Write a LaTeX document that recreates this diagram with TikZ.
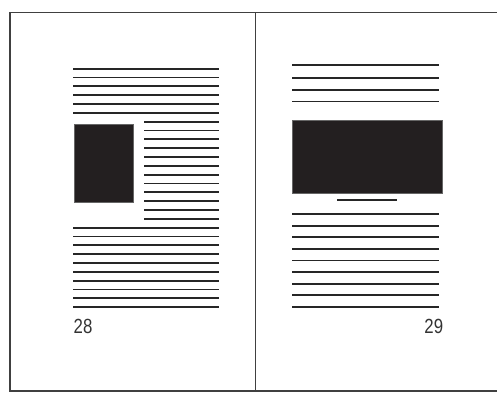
\documentclass[tikz,border=0pt]{standalone}
\usepackage{fontspec}
\setmainfont{Liberation Sans}
\begin{document}
\begin{tikzpicture}[x=1pt,y=-1pt,
  frameline/.style={draw=black!75, line width=1.5pt},
  textline/.style={draw=black!85, line width=1.8pt},
  picblock/.style={fill=pageblack, draw=black!60, line width=0.6pt},
  pagenum/.style={inner sep=0pt, text=black!80, font=\fontsize{20.5}{20.5}\selectfont, xscale=0.82}]
\definecolor{pageblack}{HTML}{231F20}
\useasboundingbox (0,0) rectangle (497,392);
\clip (0,0) rectangle (497,392);
% frame and spine
\draw[frameline] (505,12.7) -- (10,12.7) -- (10,391) -- (505,391);
\draw[frameline] (255.7,12.7) -- (255.7,391);
% left page
\foreach \k in {0,...,5,18,19,...,27}{
  \draw[textline] (73,{68.7+\k*8.83}) -- (219,{68.7+\k*8.83});
}
\foreach \k in {6,...,17}{
  \draw[textline] (144.3,{68.7+\k*8.83}) -- (219,{68.7+\k*8.83});
}
\path[picblock] (74.7,124.3) rectangle (133,202.7);
\node[pagenum, anchor=base west] (p28) at (73.5,333.5) {28};
% right page
\foreach \yy in {65,78.2,89.6,101.4}{
  \draw[textline] (292.3,\yy) -- (438.7,\yy);
}
\path[picblock] (292.3,120) rectangle (442,193.3);
\draw[textline] (337.3,200) -- (396.7,200);
\foreach \j in {0,...,8}{
  \draw[textline] (292.3,{214+\j*11.625}) -- (438.7,{214+\j*11.625});
}
\node[pagenum, anchor=base east] (p29) at (443.3,333.5) {29};
\end{tikzpicture}
\end{document}
